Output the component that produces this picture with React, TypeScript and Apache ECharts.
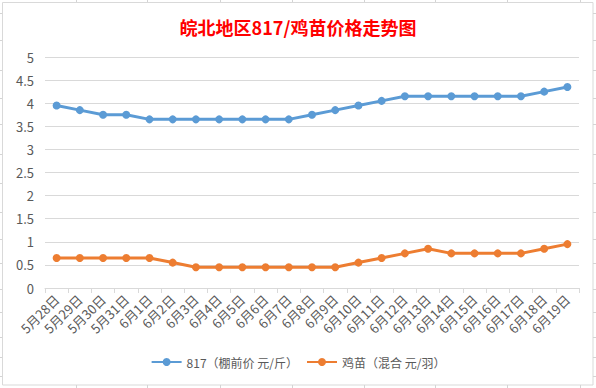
import React, { useEffect, useRef } from "react";
import * as echarts from "echarts";

const categories = [
  "5月28日", "5月29日", "5月30日", "5月31日",
  "6月1日", "6月2日", "6月3日", "6月4日", "6月5日", "6月6日", "6月7日", "6月8日", "6月9日",
  "6月10日", "6月11日", "6月12日", "6月13日", "6月14日", "6月15日", "6月16日", "6月17日", "6月18日", "6月19日",
];

const broiler817 = [
  3.95, 3.85, 3.75, 3.75, 3.65, 3.65, 3.65, 3.65, 3.65, 3.65, 3.65, 3.75, 3.85,
  3.95, 4.05, 4.15, 4.15, 4.15, 4.15, 4.15, 4.15, 4.25, 4.35,
];

const chick = [
  0.65, 0.65, 0.65, 0.65, 0.65, 0.55, 0.45, 0.45, 0.45, 0.45, 0.45, 0.45, 0.45,
  0.55, 0.65, 0.75, 0.85, 0.75, 0.75, 0.75, 0.75, 0.85, 0.95,
];

const seriesNames = ["817（棚前价 元/斤）", "鸡苗（混合 元/羽）"];
const titleText = "皖北地区817/鸡苗价格走势图";

// spreadsheet cell grid fragments visible around the chart object
const rowLines = [13, 40, 70, 98, 124, 154, 183, 212, 239, 263, 289, 312, 337, 357, 376];
const colLines = [76, 147, 220, 292, 364, 435, 507, 580];

export default function App() {
  const ref = useRef<HTMLDivElement>(null);

  useEffect(() => {
    if (!ref.current) return;
    const chart = echarts.init(ref.current, undefined, { renderer: "svg" });
    const font = "'Noto Sans CJK SC', 'Microsoft YaHei', sans-serif";
    const cellColor = "#d4d4d4";

    const cellGraphics: any[] = [];
    rowLines.forEach((y) => {
      cellGraphics.push({ type: "line", shape: { x1: 0, y1: y + 0.5, x2: 2, y2: y + 0.5 }, style: { stroke: cellColor, lineWidth: 1 }, silent: true });
      cellGraphics.push({ type: "line", shape: { x1: 593, y1: y + 0.5, x2: 596, y2: y + 0.5 }, style: { stroke: cellColor, lineWidth: 1 }, silent: true });
    });
    colLines.forEach((x) => {
      cellGraphics.push({ type: "line", shape: { x1: x + 0.5, y1: 0, x2: x + 0.5, y2: 2 }, style: { stroke: cellColor, lineWidth: 1 }, silent: true });
      cellGraphics.push({ type: "line", shape: { x1: x + 0.5, y1: 385, x2: x + 0.5, y2: 388 }, style: { stroke: cellColor, lineWidth: 1 }, silent: true });
    });

    chart.setOption({
      animation: false,
      backgroundColor: "#ffffff",
      title: {
        text: titleText,
        left: "center",
        top: 13,
        textStyle: { color: "#ff0000", fontSize: 18, fontWeight: "bold", fontFamily: font },
      },
      graphic: [
        {
          type: "rect",
          shape: { x: 2.5, y: 2.5, width: 590.5, height: 382.5 },
          style: { fill: "none", stroke: "#d9d9d9", lineWidth: 1 },
          silent: true,
          z: -1,
        },
        ...cellGraphics,
      ],
      legend: {
        bottom: 15,
        left: "center",
        itemWidth: 30,
        itemHeight: 10,
        itemGap: 8,
        textStyle: { color: "#595959", fontSize: 12, fontFamily: font },
        data: seriesNames,
      },
      grid: { left: 45, right: 17, top: 57, bottom: 100 },
      xAxis: {
        type: "category",
        data: categories,
        boundaryGap: true,
        axisLine: { lineStyle: { color: "#d9d9d9", width: 1 } },
        axisTick: { show: true, length: 5, lineStyle: { color: "#d9d9d9" } },
        axisLabel: { rotate: 45, interval: 0, color: "#595959", fontSize: 13, fontFamily: font, margin: 9 },
      },
      yAxis: {
        type: "value",
        min: 0,
        max: 5,
        interval: 0.5,
        axisLine: { show: false },
        axisTick: { show: false },
        axisLabel: { color: "#595959", fontSize: 13, fontFamily: font, margin: 11 },
        splitLine: { lineStyle: { color: "#d9d9d9", width: 1 } },
      },
      series: [
        {
          name: seriesNames[0],
          type: "line",
          data: broiler817,
          symbol: "circle",
          symbolSize: 8,
          itemStyle: { color: "#5b9bd5" },
          lineStyle: { color: "#5b9bd5", width: 3 },
        },
        {
          name: seriesNames[1],
          type: "line",
          data: chick,
          symbol: "circle",
          symbolSize: 8,
          itemStyle: { color: "#ed7d31" },
          lineStyle: { color: "#ed7d31", width: 3 },
        },
      ],
    });
    return () => chart.dispose();
  }, []);

  return (
    <div style={{ position: "fixed", left: 0, top: 0, width: 596, height: 388, background: "#fff" }}>
      <div ref={ref} style={{ width: 596, height: 388 }} />
    </div>
  );
}
